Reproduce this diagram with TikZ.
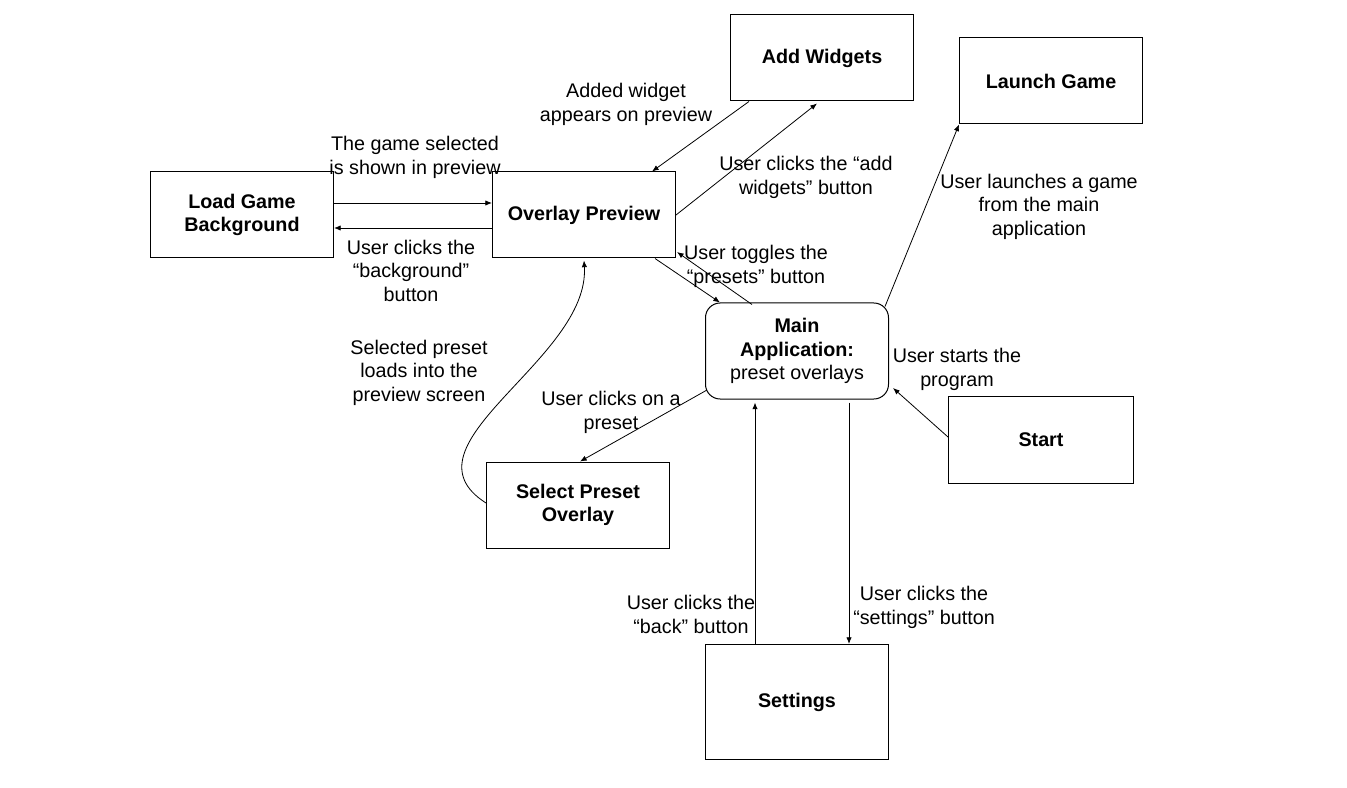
\documentclass[tikz,border=0pt]{standalone}
\usepackage{fontspec}
\setmainfont{Liberation Sans}
\usetikzlibrary{arrows.meta}
\usetikzlibrary{positioning}
\begin{document}
\begin{tikzpicture}[x=0.75pt,y=-0.75pt]

		  \tikzset{
			block/.style={draw,line width=0.75pt,minimum width=137.25pt,minimum height=64.5pt,align=center,font=\fontsize{14.8}{17.6}\selectfont\bfseries},
			lbl/.style={align=center,yshift=-1.9pt,font=\fontsize{14.8}{17.6}\selectfont},
			flow/.style={line width=0.6pt,-{Latex[length=5pt,width=4pt]}},
		  }
		  \useasboundingbox (0,0) rectangle (1347,788);
		  %BOXES
		  \node[block] (aw) at (822,58) {Add Widgets};
		  \node[block] (launch) at (1051,81) {Launch Game};
		  \node[block] (load) at (242,215) {Load Game\\Background};
		  \node[block] (ov) at (584,215) {Overlay Preview};
		  \node[block,rounded corners=11pt,minimum height=72pt] (main) at (797,351) {Main\\Application:\\\mdseries preset overlays};
		  \node[block,minimum width=138.75pt,minimum height=65.25pt] (start) at (1041,440) {Start};
		  \node[block] (sel) at (578,505) {Select Preset\\Overlay};
		  \node[block,minimum height=86.25pt] (set) at (797,702) {Settings};
		  %ARROWS
		  \draw[flow] ([yshift=9pt]load.east) -- ([yshift=9pt]ov.west);
		  \draw[flow] ([yshift=-9.75pt]ov.west) -- ([yshift=-9.75pt]load.east);
		  \draw[flow] ([xshift=-54.75pt]aw.south) -- ([xshift=51pt]ov.north);
		  \draw[flow] (ov.east) -- ([xshift=-3.75pt,yshift=-1.5pt]aw.south);
		  \draw[flow] ([xshift=53.25pt]ov.south) -- ([xshift=-57.75pt]main.north);
		  \draw[flow] ([xshift=-33.75pt,yshift=-1.5pt]main.north) -- ([xshift=0.75pt,yshift=-27.75pt]ov.east);
		  \draw[flow] ([xshift=-3pt,yshift=-3pt]main.north east) -- (launch.south west);
		  \draw[flow] ([yshift=2.25pt]start.west) -- ([xshift=3pt,yshift=-27.75pt]main.east);
		  \draw[flow] ([xshift=1.5pt,yshift=-29.25pt]main.west) -- ([xshift=1.5pt]sel.north);
		  \draw[flow] ([yshift=1.5pt]sel.west) .. controls (395,445) and (590,360) .. ([yshift=-1.5pt]ov.south);
		  \draw[flow] ([xshift=-31.5pt]set.north) -- ([xshift=-31.5pt,yshift=-2.25pt]main.south);
		  \draw[flow] ([xshift=39pt,yshift=-2.25pt]main.south) -- ([xshift=39pt]set.north);
		  %LABELS
		  \node[lbl] (l1) at (415,155) {The game selected\\is shown in preview};
		  \node[lbl] (l2) at (411,268) {User clicks the\\“background”\\button};
		  \node[lbl] (l3) at (626,102) {Added widget\\appears on preview};
		  \node[lbl] (l4) at (806,175) {User clicks the “add\\widgets” button};
		  \node[lbl] (l5) at (756,264) {User toggles the\\“presets” button};
		  \node[lbl] (l6) at (1039,204) {User launches a game\\from the main\\application};
		  \node[lbl] (l7) at (419,370) {Selected preset\\loads into the\\preview screen};
		  \node[lbl] (l8) at (611,410) {User clicks on a\\preset};
		  \node[lbl] (l9) at (957,367) {User starts the\\program};
		  \node[lbl] (l10) at (691,612) {User clicks the\\“back” button};
		  \node[lbl] (l11) at (924,605) {User clicks the\\“settings” button};
		  \end{tikzpicture}
\end{document}
